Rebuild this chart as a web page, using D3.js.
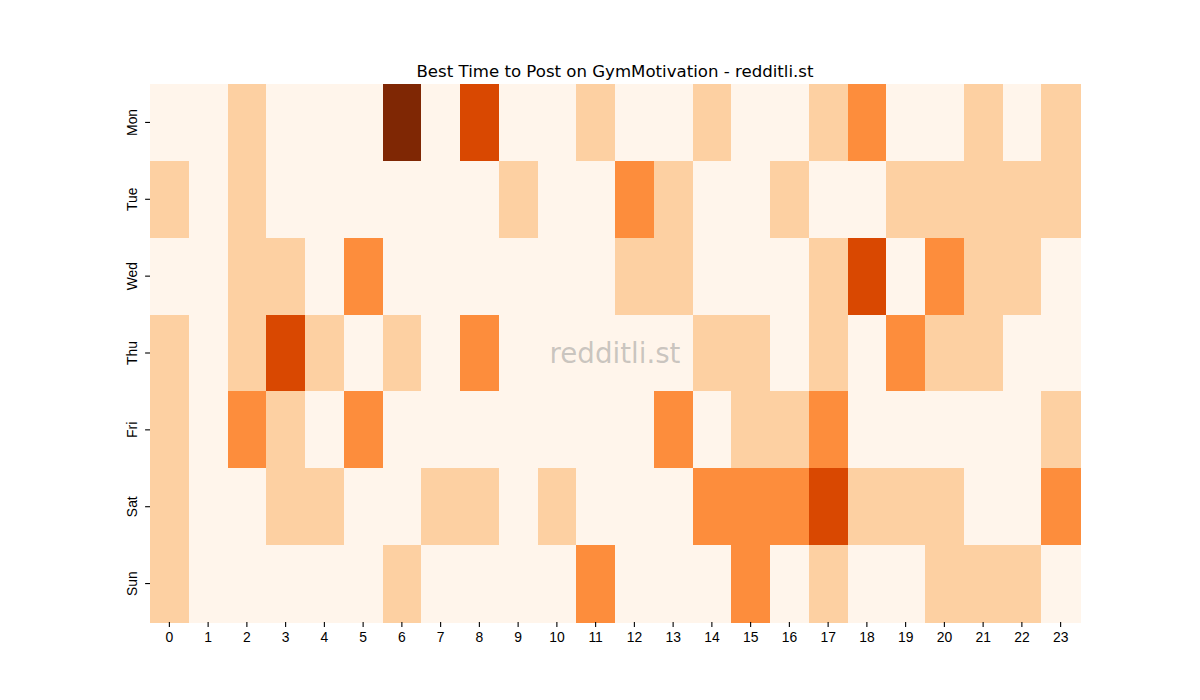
<!DOCTYPE html>
<meta charset="utf-8">
<style>
body { margin: 0; background: #fff; font-family: "DejaVu Sans", sans-serif; }
.axis text { font-size: 13.9px; fill: #000; }
.axis line { stroke: #000; stroke-width: 1.1; }
.axis path { display: none; }
</style>
<body>
<script src="https://cdn.jsdelivr.net/npm/d3@7"></script>
<script>

const days = ["Mon", "Tue", "Wed", "Thu", "Fri", "Sat", "Sun"];
const hours = d3.range(24);

// activity level per hour, one row per day
const mon = [0,0,1,0,0,0,4,0,3,0,0,1,0,0,1,0,0,1,2,0,0,1,0,1];
const tue = [1,0,1,0,0,0,0,0,0,1,0,0,2,1,0,0,1,0,0,1,1,1,1,1];
const wed = [0,0,1,1,0,2,0,0,0,0,0,0,1,1,0,0,0,1,3,0,2,1,1,0];
const thu = [1,0,1,3,1,0,1,0,2,0,0,0,0,0,1,1,0,1,0,2,1,1,0,0];
const fri = [1,0,2,1,0,2,0,0,0,0,0,0,0,2,0,1,1,2,0,0,0,0,0,1];
const sat = [1,0,0,1,1,0,0,1,1,0,1,0,0,0,2,2,2,3,1,1,1,0,0,2];
const sun = [1,0,0,0,0,0,1,0,0,0,0,2,0,0,0,2,0,1,0,0,1,1,1,0];
const values = [mon, tue, wed, thu, fri, sat, sun];

const width = 1200, height = 700;
const margin = {top: 84, right: 120, bottom: 78, left: 150};

const svg = d3.select("body").append("svg")
    .attr("width", width)
    .attr("height", height);

const x = d3.scaleBand()
    .domain(hours)
    .range([margin.left, width - margin.right]);

const y = d3.scaleBand()
    .domain(days)
    .range([margin.top, height - margin.bottom]);

const color = d3.scaleLinear()
    .domain([0, 1, 2, 3, 4])
    .range(["#fff5eb", "#fdd0a2", "#fd8d3c", "#d94801", "#7f2704"]);

const cells = values.flatMap((row, i) => row.map((v, h) => ({day: days[i], hour: h, v})));

svg.append("g")
  .selectAll("rect")
  .data(cells)
  .join("rect")
    .attr("x", d => x(d.hour))
    .attr("y", d => y(d.day))
    .attr("width", x.bandwidth() + 0.5)
    .attr("height", y.bandwidth() + 0.5)
    .attr("fill", d => color(d.v))
    .attr("shape-rendering", "crispEdges");

svg.append("g")
    .attr("class", "axis")
    .attr("transform", `translate(0,${height - margin.bottom})`)
    .call(d3.axisBottom(x).tickSize(4.9).tickPadding(4.9));

const yAxis = svg.append("g")
    .attr("class", "axis")
    .attr("transform", `translate(${margin.left},0)`)
    .call(d3.axisLeft(y).tickSize(4.9).tickPadding(4.9));

yAxis.selectAll("text")
    .attr("transform", function() {
      const t = d3.select(this);
      return `rotate(-90, ${t.attr("x")}, 0)`;
    })
    .attr("text-anchor", "middle")
    .attr("dy", "-0.25em");

svg.append("text")
    .attr("x", (margin.left + width - margin.right) / 2)
    .attr("y", margin.top - 7)
    .attr("text-anchor", "middle")
    .style("font-size", "16.6px")
    .text("Best Time to Post on GymMotivation - redditli.st");

svg.append("text")
    .attr("x", 615)
    .attr("y", 363)
    .attr("text-anchor", "middle")
    .style("font-size", "27.7px")
    .attr("fill", "#888")
    .attr("fill-opacity", 0.45)
    .text("redditli.st");

</script>
